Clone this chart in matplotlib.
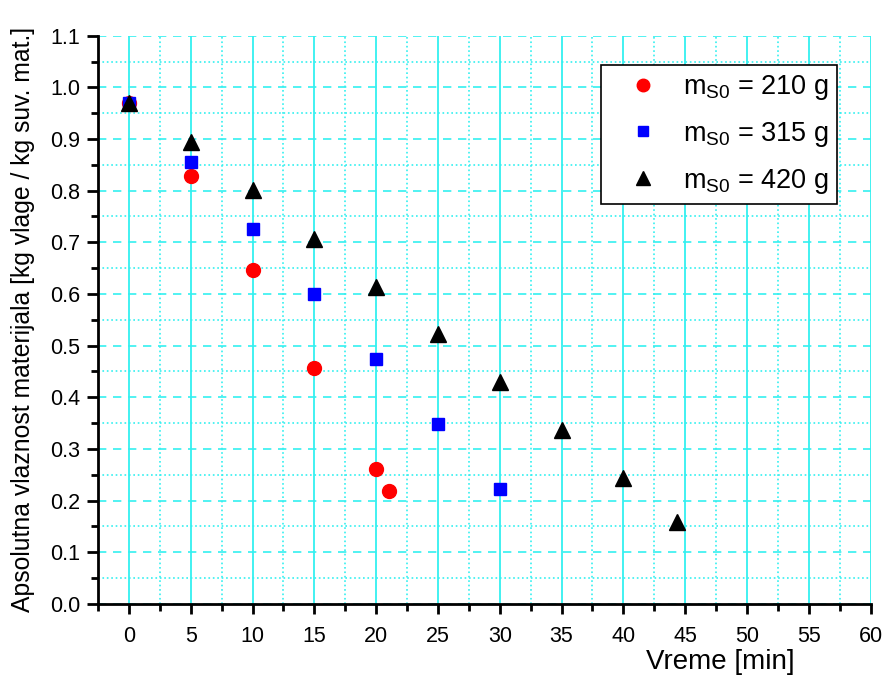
"""Absolute moisture content vs drying time for three initial sample masses."""

import matplotlib

matplotlib.use("Agg")
import matplotlib.pyplot as plt
from matplotlib.ticker import MultipleLocator

plt.rcParams["font.family"] = ["Liberation Sans", "DejaVu Sans"]
plt.rcParams["mathtext.fontset"] = "custom"
plt.rcParams["mathtext.rm"] = "Liberation Sans"

# m_S0 = 210 g
t_210 = [0, 5, 10, 15, 20, 21]
x_210 = [0.970, 0.828, 0.647, 0.457, 0.261, 0.219]

# m_S0 = 315 g
t_315 = [0, 5, 10, 15, 20, 25, 30]
x_315 = [0.970, 0.856, 0.726, 0.600, 0.474, 0.348, 0.223]

# m_S0 = 420 g
t_420 = [0, 5, 10, 15, 20, 25, 30, 35, 40, 44.3]
x_420 = [0.970, 0.895, 0.801, 0.707, 0.614, 0.522, 0.430, 0.337, 0.243, 0.159]

labels = [r"$\mathregular{m_{S0}}$ = 210 g",
          r"$\mathregular{m_{S0}}$ = 315 g",
          r"$\mathregular{m_{S0}}$ = 420 g"]

GRID = "#33f0f0"

fig = plt.figure(figsize=(8.85, 6.82), dpi=100)
ax = fig.add_axes([0.1107, 0.1144, 0.8731, 0.8333])

ax.plot(t_210, x_210, "o", color="red", ms=10, mec="red", label=labels[0], zorder=3)
ax.plot(t_315, x_315, "s", color="blue", ms=8.5, mec="blue", label=labels[1], zorder=3)
ax.plot(t_420, x_420, "^", color="black", ms=11, mec="black", label=labels[2], zorder=4)

ax.set_xlim(-2.5, 60)
ax.set_ylim(0, 1.1)
ax.xaxis.set_major_locator(MultipleLocator(5))
ax.xaxis.set_minor_locator(MultipleLocator(2.5))
ax.yaxis.set_major_locator(MultipleLocator(0.1))
ax.yaxis.set_minor_locator(MultipleLocator(0.05))
ax.yaxis.set_major_formatter(plt.FuncFormatter(lambda v, _: f"{v:.1f}"))

ax.xaxis.grid(True, which="major", color=GRID, ls="-", lw=1.3)
ax.xaxis.grid(True, which="minor", color=GRID, ls=":", lw=1.2)
ax.yaxis.grid(True, which="major", color=GRID, ls="--", lw=1.2, dashes=(5, 4))
ax.yaxis.grid(True, which="minor", color=GRID, ls=":", lw=1.2)
ax.set_axisbelow(True)

for side in ("top", "right"):
    ax.spines[side].set_visible(False)
for side in ("left", "bottom"):
    ax.spines[side].set_linewidth(2)

ax.tick_params(which="major", direction="out", length=8, width=2, labelsize=15.5)
ax.tick_params(which="minor", direction="out", length=5, width=2)
ax.tick_params(axis="x", which="major", length=7.5, pad=8)
ax.tick_params(axis="y", which="major", pad=5)

ax.set_xlabel("Vreme [min]", fontsize=20)
ax.xaxis.set_label_coords(0.805, -0.08)
ax.set_ylabel("Apsolutna vlaznost materijala [kg vlage / kg suv. mat.]", fontsize=17.8)
ax.yaxis.set_label_coords(-0.082, 0.5)

leg = ax.legend(loc="upper right", bbox_to_anchor=(0.956, 0.948), borderaxespad=0,
                fontsize=19.5, frameon=True, fancybox=False, edgecolor="black",
                framealpha=1, handlelength=2.45, handletextpad=0.25, borderpad=0.3,
                labelspacing=0.65, markerscale=0.9)
leg.get_frame().set_linewidth(1.2)

fig.savefig("out.png", dpi=100)
